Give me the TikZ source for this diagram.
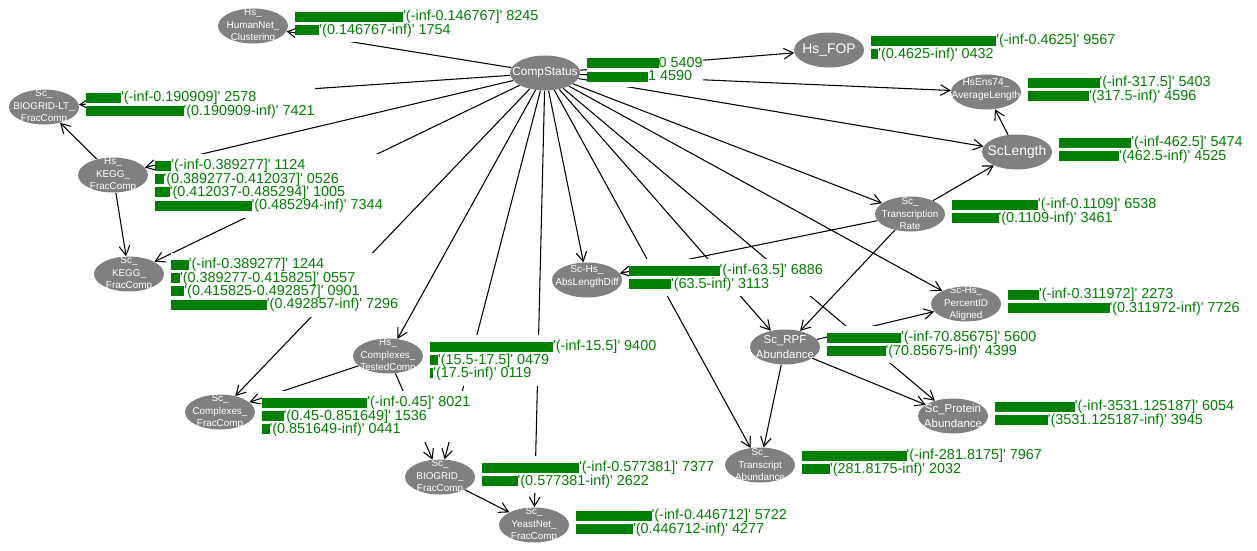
\documentclass[tikz,border=0pt]{standalone}
\usepackage{fontspec}
\usetikzlibrary{arrows.meta,backgrounds,shapes.geometric}
\newfontfamily\labfont{Liberation Sans}
\newfontfamily\nodefont{Liberation Sans}
\definecolor{bargreen}{RGB}{0,128,0}
\definecolor{nodegray}{RGB}{128,128,128}
% probability bar: length proportional to the state's probability
\newdimen\barunit \barunit=96.75pt
\newcommand\pb[1]{\textcolor{bargreen}{\rule[-0.75pt]{\dimexpr#1\barunit+1.2pt\relax}{7.5pt}}}

\tikzset{
  bnode/.style={ellipse, fill=nodegray, draw=none, minimum width=52.5pt,
    minimum height=26.25pt, inner sep=0pt},
  btext/.style={text=white, align=center, inner sep=0pt,
    font=\nodefont\fontsize{7.4pt}{9.4pt}\selectfont},
  btwo/.style={btext, font=\nodefont\fontsize{7.6pt}{10pt}\selectfont},
  bbig/.style={btext, font=\nodefont\fontsize{8.6pt}{11.25pt}\selectfont},
  bone/.style={btext, font=\nodefont\fontsize{10.4pt}{12pt}\selectfont},
  distr/.style={anchor=north west, fill=white, inner xsep=0pt, inner ysep=4pt,
    align=left, text=bargreen, font=\labfont\fontsize{10.8pt}{10.1pt}\selectfont},
  link/.style={draw=black, line width=0.8pt,
    -{Straight Barb[length=7pt,width=8pt]}},
}

\begin{document}
\begin{tikzpicture}[x=0.75pt, y=-0.75pt]
\useasboundingbox (0,0) rectangle (1257,550);

% ---------- variables ----------
\node[bnode] (humannet) at (253,26) {};
\node[btext] (humannet-t) at (humannet) {Hs\_\\HumanNet\_\\Clustering};
\node[bnode] (cs) at (545,73) {};
\node[btext, font=\nodefont\fontsize{8.9pt}{10pt}\selectfont] (cs-t) at (cs) {CompStatus};
\node[bnode] (fop) at (829,50) {};
\node[bone] (fop-t) at (fop) {Hs\_FOP};
\node[bnode] (ens) at (986,92) {};
\node[btwo] (ens-t) at ([yshift=2pt]ens.center) {HsEns74\_\\AverageLength};
\node[bnode] (sclen) at (1017,152) {};
\node[bone] (sclen-t) at (sclen) {ScLength};
\node[bnode] (bglt) at (44,107) {};
\node[btext] (bglt-t) at (bglt) {Sc\_\\BIOGRID-LT\_\\FracComp};
\node[bnode] (hskegg) at (113,175) {};
\node[btext] (hskegg-t) at (hskegg) {Hs\_\\KEGG\_\\FracComp};
\node[bnode] (sckegg) at (129,274) {};
\node[btext] (sckegg-t) at (sckegg) {Sc\_\\KEGG\_\\FracComp};
\node[bnode] (trate) at (910,214) {};
\node[btext] (trate-t) at (trate) {Sc\_\\Transcription\\Rate};
\node[bnode] (absl) at (587,280) {};
\node[btwo] (absl-t) at ([yshift=2.5pt]absl.center) {Sc-Hs\_\\AbsLengthDiff};
\node[bnode] (pid) at (966,304) {};
\node[btext] (pid-t) at (pid) {Sc-Hs\_\\PercentID\\Aligned};
\node[bnode] (rpf) at (785,347) {};
\node[bbig] (rpf-t) at (rpf) {Sc\_RPF\\Abundance};
\node[bnode] (prot) at (953,416) {};
\node[bbig] (prot-t) at (prot) {Sc\_Protein\\Abundance};
\node[bnode] (trab) at (760,465) {};
\node[btext] (trab-t) at (trab) {Sc\_\\Transcript\\Abundance};
\node[bnode] (hscx) at (388,356) {};
\node[btext] (hscx-t) at (hscx) {Hs\_\\Complexes\_\\TestedComp};
\node[bnode] (sccx) at (220,412) {};
\node[btext] (sccx-t) at (sccx) {Sc\_\\Complexes\_\\FracComp};
\node[bnode] (scbg) at (440,477) {};
\node[btext] (scbg-t) at (scbg) {Sc\_\\BIOGRID\_\\FracComp};
\node[bnode] (yn) at (534,525) {};
\node[btext] (yn-t) at (yn) {Sc\_\\YeastNet\_\\FracComp};

% ---------- state distributions ----------
\node[distr] (humannet-d) at ([shift={(42,-21.5)}]humannet.center)
  {\pb{.8245}'(-inf-0.146767]' 8245\\\pb{.1754}'(0.146767-inf)' 1754};
\node[distr] (cs-d) at ([shift={(42,-21.5)}]cs.center)
  {\pb{.5409}0 5409\\\pb{.4590}1 4590};
\node[distr] (fop-d) at ([shift={(42,-21.5)}]fop.center)
  {\pb{.9567}'(-inf-0.4625]' 9567\\\pb{.0432}'(0.4625-inf)' 0432};
\node[distr] (ens-d) at ([shift={(42,-21.5)}]ens.center)
  {\pb{.5403}'(-inf-317.5]' 5403\\\pb{.4596}'(317.5-inf)' 4596};
\node[distr] (sclen-d) at ([shift={(42,-21.5)}]sclen.center)
  {\pb{.5474}'(-inf-462.5]' 5474\\\pb{.4525}'(462.5-inf)' 4525};
\node[distr] (bglt-d) at ([shift={(42,-21.5)}]bglt.center)
  {\pb{.2578}'(-inf-0.190909]' 2578\\\pb{.7421}'(0.190909-inf)' 7421};
\node[distr] (hskegg-d) at ([shift={(42,-21.5)}]hskegg.center)
  {\pb{.1124}'(-inf-0.389277]' 1124\\\pb{.0526}'(0.389277-0.412037]' 0526\\
   \pb{.1005}'(0.412037-0.485294]' 1005\\\pb{.7344}'(0.485294-inf)' 7344};
\node[distr] (sckegg-d) at ([shift={(42,-21.5)}]sckegg.center)
  {\pb{.1244}'(-inf-0.389277]' 1244\\\pb{.0557}'(0.389277-0.415825]' 0557\\
   \pb{.0901}'(0.415825-0.492857]' 0901\\\pb{.7296}'(0.492857-inf)' 7296};
\node[distr] (trate-d) at ([shift={(42,-21.5)}]trate.center)
  {\pb{.6538}'(-inf-0.1109]' 6538\\\pb{.3461}'(0.1109-inf)' 3461};
\node[distr] (absl-d) at ([shift={(42,-21.5)}]absl.center)
  {\pb{.6886}'(-inf-63.5]' 6886\\\pb{.3113}'(63.5-inf)' 3113};
\node[distr] (pid-d) at ([shift={(42,-21.5)}]pid.center)
  {\pb{.2273}'(-inf-0.311972]' 2273\\\pb{.7726}'(0.311972-inf)' 7726};
\node[distr] (rpf-d) at ([shift={(42,-21.5)}]rpf.center)
  {\pb{.5600}'(-inf-70.85675]' 5600\\\pb{.4399}'(70.85675-inf)' 4399};
\node[distr] (prot-d) at ([shift={(42,-21.5)}]prot.center)
  {\pb{.6054}'(-inf-3531.125187]' 6054\\\pb{.3945}'(3531.125187-inf)' 3945};
\node[distr] (trab-d) at ([shift={(42,-21.5)}]trab.center)
  {\pb{.7967}'(-inf-281.8175]' 7967\\\pb{.2032}'(281.8175-inf)' 2032};
\node[distr] (hscx-d) at ([shift={(42,-21.5)}]hscx.center)
  {\pb{.9400}'(-inf-15.5]' 9400\\\pb{.0479}'(15.5-17.5]' 0479\\\pb{.0119}'(17.5-inf)' 0119};
\node[distr] (sccx-d) at ([shift={(42,-21.5)}]sccx.center)
  {\pb{.8021}'(-inf-0.45]' 8021\\\pb{.1536}'(0.45-0.851649]' 1536\\\pb{.0441}'(0.851649-inf)' 0441};
\node[distr] (scbg-d) at ([shift={(42,-21.5)}]scbg.center)
  {\pb{.7377}'(-inf-0.577381]' 7377\\\pb{.2622}'(0.577381-inf)' 2622};
\node[distr] (yn-d) at ([shift={(42,-21.5)}]yn.center)
  {\pb{.5722}'(-inf-0.446712]' 5722\\\pb{.4277}'(0.446712-inf)' 4277};

% ---------- arcs (behind the distribution boxes) ----------
\begin{pgfonlayer}{background}
  \foreach \child in {humannet,fop,ens,sclen,bglt,hskegg,sckegg,sccx,hscx,
                      scbg,yn,absl,trab,rpf,prot,pid,trate}
    \draw[link] (cs) -- (\child);
  \draw[link] (hskegg) -- (bglt);
  \draw[link] (hskegg) -- (sckegg);
  \draw[link] (hscx) -- (sccx);
  \draw[link] (hscx) -- (scbg);
  \draw[link] (scbg) -- (yn);
  \draw[link] (trate) -- (sclen);
  \draw[link] (trate) -- (absl);
  \draw[link] (trate) -- (rpf);
  \draw[link] (sclen) -- (ens);
  \draw[link] (rpf) -- (pid);
  \draw[link] (rpf) -- (prot);
  \draw[link] (rpf) -- (trab);
\end{pgfonlayer}
\end{tikzpicture}
\end{document}
